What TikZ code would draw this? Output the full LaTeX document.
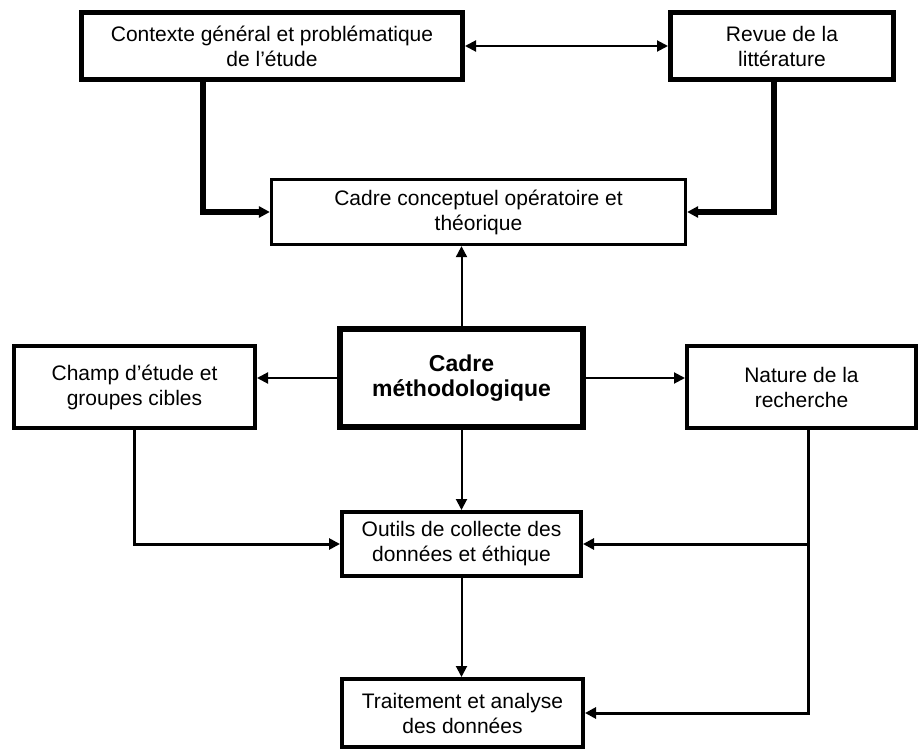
\documentclass[tikz,border=0pt]{standalone}
\usepackage{fontspec}
\setmainfont{Liberation Sans}
\usetikzlibrary{arrows.meta}
\begin{document}
\begin{tikzpicture}[x=1pt,y=-1pt,
  box/.style={draw, rectangle, align=center, inner sep=0pt,
    font=\fontsize{21}{25}\selectfont},
  mainbox/.style={box, line width=6.5pt,
    font=\fontsize{23}{25}\selectfont\bfseries},
  tip/.style={-{Triangle[length=11pt,width=11pt]}},
  bothtips/.style={{Triangle[length=11pt,width=11pt]}-{Triangle[length=11pt,width=11pt]}},
  thinarrow/.style={tip, line width=2pt},
  midarrow/.style={tip, line width=3pt},
  heavyarrow/.style={tip, line width=6pt}
]
\useasboundingbox (0,0) rectangle (919,751);

% upper row
\node[box, line width=5pt, minimum width=381pt, minimum height=67pt] (ctx) at (272,46)
  {Contexte général et problématique\\de l’étude};
\node[box, line width=5pt, minimum width=223pt, minimum height=67pt] (revue) at (782,46)
  {Revue de la\\littérature};

% conceptual frame
\node[box, line width=3.3pt, minimum width=414pt, minimum height=65pt] (cadrec) at (478.5,212)
  {Cadre conceptuel opératoire et\\théorique};

% methodological frame and its neighbours
\node[mainbox, minimum width=243pt, minimum height=98pt] (meth) at (461.5,378)
  {Cadre\\méthodologique};
\node[box, line width=4pt, minimum width=241pt, minimum height=82pt] (champ) at (134.5,387)
  {Champ d’étude et\\groupes cibles};
\node[box, line width=4pt, minimum width=229pt, minimum height=82pt] (nature) at (801.5,387)
  {Nature de la\\recherche};

% lower column
\node[box, line width=4pt, minimum width=239pt, minimum height=64pt] (outils) at (461.5,544)
  {Outils de collecte des\\données et éthique};
\node[box, line width=4pt, minimum width=241pt, minimum height=68pt] (trait) at (462.5,713)
  {Traitement et analyse\\des données};

% connectors
\draw[line width=2pt, bothtips] (ctx.east) -- (revue.west);
\draw[heavyarrow] ([xshift=-69pt]ctx.south) |- (cadrec.west);
\draw[heavyarrow] ([xshift=-8pt]revue.south) |- (cadrec.east);

\draw[thinarrow] (meth.north) -- (meth.north |- cadrec.south);
\draw[thinarrow] (meth.west) -- (meth.west -| champ.east);
\draw[thinarrow] (meth.east) -- (meth.east -| nature.west);
\draw[thinarrow] (meth.south) -- (outils.north);

\draw[midarrow] (champ.south) |- (outils.west);
\draw[midarrow] ([xshift=6.5pt]nature.south) |- (trait.east);
\coordinate (nj) at ([xshift=6.5pt]nature.south |- outils.east);
\draw[midarrow] (nj) -- (outils.east);

\draw[thinarrow] (outils.south) -- (outils.south |- trait.north);
\end{tikzpicture}
\end{document}
